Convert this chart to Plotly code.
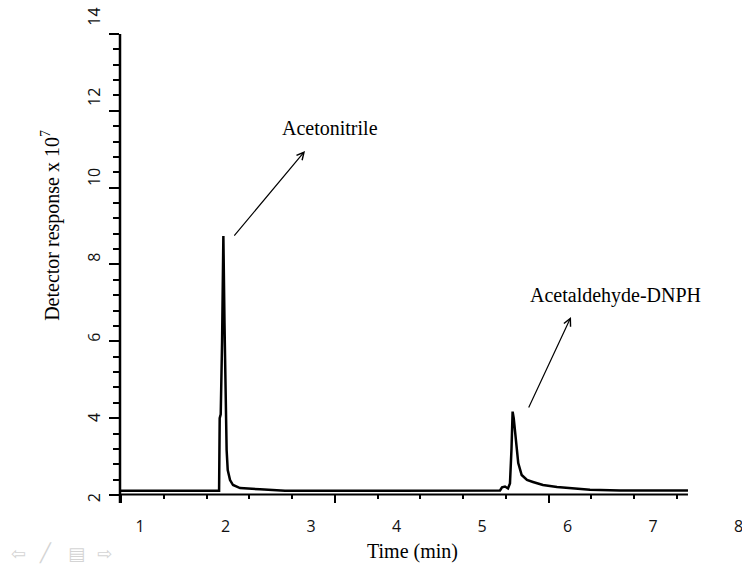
import plotly.graph_objects as go

# ---- data (time in min, detector response x 10^7) ----
time_min = [0.766, 1.70, 1.912, 1.925, 1.932, 1.944, 1.960, 1.975, 1.988, 1.999, 2.013, 2.026,
            2.053, 2.088, 2.170, 2.404, 2.579, 2.696, 4.0, 5.211, 5.234, 5.269, 5.304, 5.327,
            5.345, 5.358, 5.371, 5.386, 5.424, 5.464, 5.526, 5.596, 5.713, 5.877, 6.088,
            6.263, 6.614, 7.409]
response = [2.11, 2.11, 2.11, 2.11, 4.0, 4.1, 6.0, 8.74, 6.5, 4.6, 3.17, 2.65,
            2.39, 2.26, 2.18, 2.15, 2.13, 2.11, 2.11, 2.12, 2.20, 2.22, 2.17, 2.30,
            3.2, 4.17, 4.0, 3.69, 2.83, 2.52, 2.39, 2.34, 2.26, 2.21, 2.18,
            2.14, 2.12, 2.12]

x_tick_labels = [1, 2, 3, 4, 5, 6, 7, 8]
x_major_marks = [0.778, 3.278, 5.778]
x_minor_marks = [1.278, 1.778, 2.278, 2.778, 3.778, 4.278, 4.778, 5.278, 6.278, 6.778, 7.278]
y_tick_labels = [2, 4, 6, 8, 10, 12, 14]
y_minor_marks = [round(2 + 0.4 * k, 1) for k in range(1, 30) if k % 5 != 0]

peak_names = ["Acetonitrile", "Acetaldehyde-DNPH"]
label_pos = [(3.222, 11.552), (6.556, 7.180)]
arrow_head = [(2.930, 10.954), (6.041, 6.633)]
arrow_tail = [(2.088, 8.715), (5.538, 4.238)]

X_RANGE = [0.766, 8.041]
Y_RANGE = [1.792, 14.884]
Y_LABEL_RANGE = [1.925, 14.474]
X_AXIS_Y = 2.013
AX_POS = 0.0169

fig = go.Figure()
fig.add_trace(go.Scatter(x=time_min, y=response, mode="lines",
                         line=dict(color="black", width=2.5), showlegend=False,
                         hoverinfo="skip"))
# helper traces so overlay axes are drawn
fig.add_trace(go.Scatter(x=X_RANGE, y=[None, None], xaxis="x2", yaxis="y",
                         showlegend=False, hoverinfo="skip"))
fig.add_trace(go.Scatter(x=[None, None], y=Y_LABEL_RANGE, xaxis="x", yaxis="y2",
                         showlegend=False, hoverinfo="skip"))

tickfont = dict(family="Open Sans", size=16, color="#111")

fig.update_layout(
    width=742, height=566,
    margin=dict(l=120, r=0, t=0, b=63),
    paper_bgcolor="white", plot_bgcolor="white",
    xaxis=dict(range=X_RANGE, tickmode="array", tickvals=x_tick_labels,
               ticktext=[str(v) for v in x_tick_labels], ticks="",
               showline=False, showgrid=False, zeroline=False,
               anchor="free", position=AX_POS, tickfont=tickfont,
               ticklabelstandoff=21, ticklabeloverflow="allow"),
    xaxis2=dict(range=X_RANGE, overlaying="x", anchor="free", position=AX_POS,
                tickmode="array", tickvals=x_major_marks, ticks="outside",
                ticklen=8, tickwidth=2, tickcolor="black",
                showticklabels=False, showline=False, showgrid=False, zeroline=False,
                minor=dict(tickmode="array", tickvals=x_minor_marks, ticks="outside",
                           ticklen=4, tickwidth=2, tickcolor="black", showgrid=False)),
    yaxis=dict(range=Y_RANGE, tickmode="array", tickvals=y_tick_labels,
               ticks="outside", ticklen=10, tickwidth=2, tickcolor="black",
               showticklabels=False, showline=False, showgrid=False, zeroline=False,
               minor=dict(tickmode="array", tickvals=y_minor_marks, ticks="outside",
                          ticklen=6, tickwidth=2, tickcolor="black", showgrid=False)),
    yaxis2=dict(range=Y_LABEL_RANGE, overlaying="y", side="left",
                tickmode="array", tickvals=y_tick_labels,
                ticktext=[str(v) for v in y_tick_labels], ticks="",
                tickangle=-90, tickfont=tickfont, ticklabelstandoff=16,
                ticklabeloverflow="allow",
                showline=False, showgrid=False, zeroline=False),
    shapes=[
        dict(type="line", xref="x", yref="y", x0=0.649, x1=7.409, y0=X_AXIS_Y, y1=X_AXIS_Y,
             line=dict(color="black", width=2)),
        dict(type="line", xref="paper", yref="y", x0=0, x1=0, y0=Y_RANGE[0], y1=14,
             line=dict(color="black", width=2.5)),
    ],
)

serif = "Liberation Serif"
for name, (lx, ly), (hx, hy), (tx, ty) in zip(peak_names, label_pos, arrow_head, arrow_tail):
    fig.add_annotation(x=lx, y=ly, xref="x", yref="y", text=name, showarrow=False,
                       xanchor="center", yanchor="middle",
                       font=dict(family=serif, size=20, color="black"))
    fig.add_annotation(x=hx, y=hy, xref="x", yref="y", ax=tx, ay=ty, axref="x", ayref="y",
                       text="", showarrow=True, arrowhead=5, arrowwidth=1.2,
                       arrowsize=1.2, arrowcolor="black", standoff=0, startstandoff=0)

fig.add_annotation(x=0, y=0.551, xref="paper", yref="paper", xshift=-69,
                   xanchor="center", yanchor="middle",
                   text="Detector response x 10<sup>7</sup>", textangle=-90,
                   showarrow=False, font=dict(family=serif, size=20, color="black"))
fig.add_annotation(x=0.4695, y=-0.0974, xref="paper", yref="paper",
                   xanchor="center", yanchor="middle",
                   text="Time (min)", showarrow=False,
                   font=dict(family=serif, size=20, color="black"))

# slideshow navigation glyphs at bottom-left
for gx, glyph in zip([18, 45, 76, 104], ["⇦", "╱", "▤", "⇨"]):
    fig.add_annotation(x=(gx - 120) / 622, y=(503 - 553) / 503, xref="paper", yref="paper",
                       xanchor="center", yanchor="middle",
                       text=glyph, showarrow=False,
                       font=dict(family="DejaVu Sans", size=18, color="#d4d4d4"))

fig.write_html("out.html")
